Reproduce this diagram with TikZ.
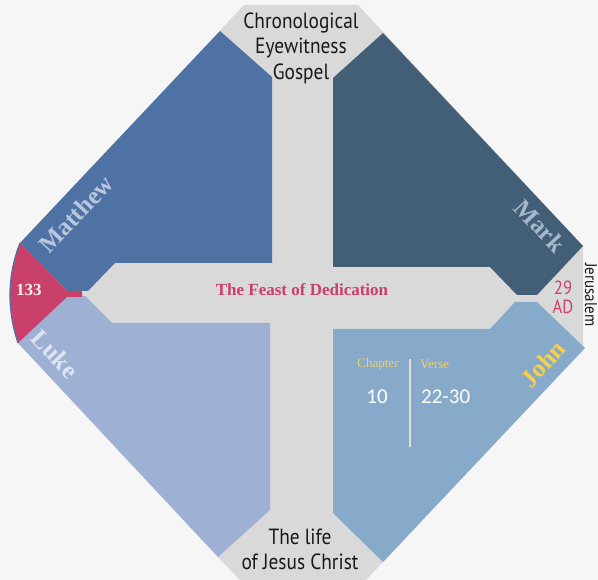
\documentclass[tikz,border=0pt]{standalone}
\usepackage{fontspec}
\setmainfont{Liberation Serif}
\newfontfamily\condsans[FakeStretch=0.88]{PT Sans}
\newfontfamily\calib{Carlito}
\definecolor{bgc}{RGB}{246,246,246}
\definecolor{grayc}{RGB}{217,217,217}
\definecolor{mattc}{RGB}{79,114,165}
\definecolor{markc}{RGB}{67,95,119}
\definecolor{lukec}{RGB}{158,176,212}
\definecolor{johnc}{RGB}{135,170,203}
\definecolor{redc}{RGB}{201,64,106}
\definecolor{mattt}{RGB}{185,199,222}
\definecolor{markt}{RGB}{168,184,204}
\definecolor{luket}{RGB}{222,229,241}
\definecolor{goldc}{RGB}{247,208,70}
\definecolor{chapc}{RGB}{238,208,100}
\definecolor{divc}{RGB}{228,224,200}
\definecolor{inkc}{RGB}{25,25,25}
\begin{document}
\begin{tikzpicture}[x=1pt,y=-1pt,
  gosp/.style={font=\bfseries\fontsize{25}{25}\selectfont, inner sep=0pt},
  cond/.style={font=\condsans\fontsize{22}{25.5}\selectfont, text=inkc, align=center, inner sep=0pt},
  smallhead/.style={font=\fontsize{13}{13}\selectfont, text=chapc, inner sep=0pt},
  numtxt/.style={font=\calib\fontsize{21}{21}\selectfont, text=white, inner sep=0pt}]
\useasboundingbox (0,0) rectangle (598,580);
\fill[bgc] (0,0) rectangle (598,580);
% gray cross base
\fill[grayc] (244,5) -- (358,5) -- (583,246) -- (583,348) -- (383,562) -- (366,580)
  -- (240,580) -- (218,557) -- (18,343) -- (20,243) -- cycle;
% quadrants
\fill[mattc] (220,31) -- (272,77) -- (272,263) -- (115,263) -- (88,291) -- (67,291) -- (20,243) -- cycle;
\fill[markc] (383,33) -- (333,78) -- (333,267) -- (490,267) -- (517,295) -- (537,295) -- (583,246) -- cycle;
\fill[lukec] (270,323) -- (112,323) -- (85,296) -- (67,296) -- (18,343) -- (218,557) -- (270,510) -- cycle;
\fill[johnc] (333,329) -- (490,329) -- (515,302) -- (537,302) -- (585,348) -- (383,562) -- (333,513) -- cycle;
% red cap
\fill[redc] (20,243) -- (67,291) -- (82,291) -- (82,297) -- (67,297) -- (18,343)
  .. controls (7,310) and (7,276) .. (20,243) -- cycle;
\draw[mattc, line width=1.2pt] (18,343) .. controls (7,310) and (7,276) .. (20,243);
% divider
\coordinate (dtop) at (410,359);
\coordinate (dbot) at (410,447);
\draw[divc, line width=2pt] (dtop) -- (dbot);
% texts
\node[cond] (top) at (301,48) {Chronological\\Eyewitness\\Gospel};
\node[cond] (bottom) at (300,549.5) {The life\\of Jesus Christ};
\node[font=\bfseries\fontsize{17}{17}\selectfont, text=redc, inner sep=0pt] (feast) at (302,290) {The Feast of Dedication};
\node[gosp, text=mattt, rotate=47] (matt) at (76,214) {Matthew};
\node[gosp, text=markt, rotate=-47] (mark) at (540,226) {Mark};
\node[gosp, text=luket, rotate=-47] (luke) at (55,354) {Luke};
\node[gosp, text=goldc, rotate=47] (john) at (543,364) {John};
\node[font=\bfseries\fontsize{17}{17}\selectfont, text=white!92!redc, inner sep=0pt] (num) at (29,290) {133};
\node[font=\condsans\fontsize{19}{19}\selectfont, text=redc, align=center, inner sep=0pt] (year) at (563,297.5) {29\\AD};
\node[font=\condsans\fontsize{17}{17}\selectfont, text=inkc, rotate=-90, inner sep=0pt] (place) at (591,295) {Jerusalem};
\node[smallhead] (chap) at (378,364) {Chapter};
\node[smallhead, anchor=west] (verse) at (420,364) {Verse};
\node[numtxt] (ch) at (377,397) {10};
\node[numtxt, anchor=west] (vs) at (421,397) {22-30};
\end{tikzpicture}
\end{document}
